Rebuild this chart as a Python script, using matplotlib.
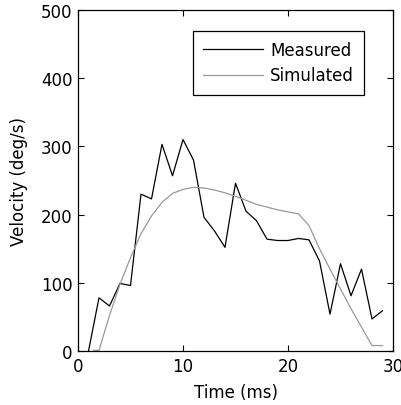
import matplotlib
matplotlib.use('Agg')
import matplotlib.pyplot as plt

# measured velocity, sampled every ms
time_meas = [1, 2, 3, 4, 5, 6, 7, 8, 9, 10, 11, 12, 13, 14, 15,
             16, 17, 18, 19, 20, 21, 22, 23, 24, 25, 26, 27, 28, 29]
vel_meas = [0, 78, 66, 99, 96, 230, 223, 303, 257, 310, 280, 196, 176, 152, 246,
            205, 191, 164, 162, 162, 165, 163, 132, 54, 128, 81, 120, 47, 59]

# simulated velocity
time_sim = [1.5, 2, 3, 4, 5, 6, 7, 8, 9, 10, 11, 12, 13, 14, 15,
            16, 17, 18, 19, 20, 21, 22, 23, 24, 25, 26, 27, 28, 29]
vel_sim = [1, 1, 52, 98, 137, 172, 198, 218, 231, 237, 240, 239, 236, 232, 227,
           221, 215, 211, 207, 204, 201, 184, 150, 120, 91, 62, 35, 8, 8]

x_ticks = [0, 10, 20, 30]
y_ticks = [0, 100, 200, 300, 400, 500]

plt.rcParams['font.family'] = ['DejaVu Sans']
plt.rcParams['font.size'] = 12

fig = plt.figure(figsize=(4.01, 4.06), dpi=100)
ax = fig.add_axes([78 / 401, 1 - 352 / 406, 315 / 401, 341 / 406])

ax.plot(time_meas, vel_meas, color='black', lw=0.9, label='Measured')
ax.plot(time_sim, vel_sim, color='#999999', lw=0.9, label='Simulated')

ax.set_xlim(0, 30)
ax.set_ylim(0, 500)
ax.set_xticks(x_ticks)
ax.set_yticks(y_ticks)
ax.tick_params(direction='in', length=4, width=0.8, top=True, right=True,
               pad=4, labelsize=12)
for s in ax.spines.values():
    s.set_linewidth(0.9)

ax.set_xlabel('Time (ms)', fontsize=12, labelpad=6)
ax.set_ylabel('Velocity (deg/s)', fontsize=12, labelpad=9)

leg = ax.legend(loc='upper right', bbox_to_anchor=((364 - 78) / 315, (352 - 32) / 341),
                borderaxespad=0, fancybox=False, edgecolor='black', framealpha=1,
                handlelength=3.6, handletextpad=0.4, labelspacing=0.45,
                borderpad=0.6, fontsize=12)
leg.get_frame().set_linewidth(0.9)

fig.savefig('out.png', dpi=100)
